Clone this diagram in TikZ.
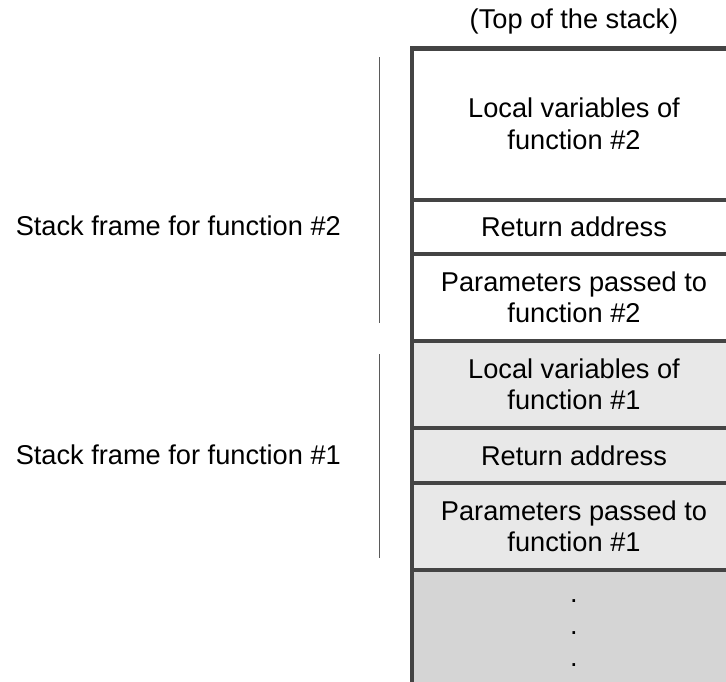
\documentclass[tikz,border=0pt]{standalone}
\usepackage{fontspec}
\setmainfont{Liberation Sans}
\definecolor{edge}{HTML}{444444}
\definecolor{brace}{HTML}{5A5A5A}
\definecolor{frameone}{HTML}{E8E8E8}
\definecolor{older}{HTML}{D5D5D5}
\begin{document}
\begin{tikzpicture}[x=1pt,y=-1pt,
  every node/.style={font=\fontsize{27.2}{31.5}\selectfont, text=black},
  cell/.style={rectangle, inner sep=0pt, outer sep=0pt, minimum width=324pt, align=center},
  border/.style={draw=edge, line width=4.2pt},
  divider/.style={draw=edge, line width=4pt},
  bracket/.style={draw=brace, line width=1.6pt},
  label/.style={anchor=east, inner sep=0pt}]
\useasboundingbox (0,0) rectangle (726,681);

% stack cells, top to bottom
\node[cell, fill=white,     minimum height=151pt] (loc2) at (574,124)   {Local variables of\\function \#2};
\node[cell, fill=white,     minimum height=54.5pt] (ret2) at (574,226.75) {Return address};
\node[cell, fill=white,     minimum height=87pt]  (par2) at (574,297.5) {Parameters passed to\\function \#2};
\node[cell, fill=frameone,  minimum height=87pt]  (loc1) at (574,384.5) {Local variables of\\function \#1};
\node[cell, fill=frameone,  minimum height=55pt]  (ret1) at (574,455.5) {Return address};
\node[cell, fill=frameone,  minimum height=87pt]  (par1) at (574,526.5) {Parameters passed to\\function \#1};
\node[cell, fill=older,     minimum height=114pt] (rest) at (574,627)   {};
\node[inner sep=0pt, font=\fontsize{27.2}{32}\selectfont, align=center] (dots) at (574,633) {.\\.\\.};

% outline of the stack and the dividers between cells
\draw[border] (loc2.north east) -- (loc2.north west) -- (rest.south west);
\foreach \c in {ret2,par2,loc1,ret1,par1,rest}
  \draw[divider] (\c.north west) -- (\c.north east);

\node[inner sep=0pt] (top) at (574,21) {(Top of the stack)};

% frame brackets and their labels
\coordinate (b2top) at (379.5,57);
\coordinate (b2bot) at (379.5,323);
\coordinate (b1top) at (379.5,354);
\coordinate (b1bot) at (379.5,558);
\draw[bracket] (b2top) -- (b2bot);
\draw[bracket] (b1top) -- (b1bot);
\node[label] (f2) at (341,226) {Stack frame for function \#2};
\node[label] (f1) at (341,455) {Stack frame for function \#1};
\end{tikzpicture}
\end{document}
